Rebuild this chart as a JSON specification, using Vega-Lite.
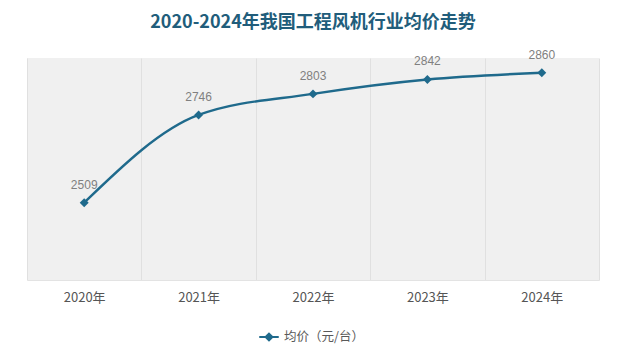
{
  "$schema": "https://vega.github.io/schema/vega-lite/v6.json",
  "width": 572,
  "height": 222,
  "autosize": {"type": "none"},
  "padding": {"left": 27, "top": 58, "right": 24, "bottom": 78},
  "background": "white",
  "config": {
    "font": "Noto Sans CJK SC",
    "view": {"fill": "#f0f0f0", "stroke": null}
  },
  "title": {
    "text": "2020-2024年我国工程风机行业均价走势",
    "fontSize": 18,
    "fontWeight": "bold",
    "color": "#215d7b",
    "anchor": "middle",
    "offset": 17
  },
  "data": {
    "values": [
      {"year": "2020年", "price": 2509, "series": "均价（元/台）"},
      {"year": "2021年", "price": 2746, "series": "均价（元/台）"},
      {"year": "2022年", "price": 2803, "series": "均价（元/台）"},
      {"year": "2023年", "price": 2842, "series": "均价（元/台）"},
      {"year": "2024年", "price": 2860, "series": "均价（元/台）"}
    ]
  },
  "encoding": {
    "x": {
      "field": "year",
      "type": "nominal",
      "sort": null,
      "scale": {"paddingInner": 0, "paddingOuter": 0},
      "axis": {
        "title": null,
        "labelAngle": 0,
        "labelFontSize": 13,
        "labelColor": "#555555",
        "labelPadding": 11,
        "ticks": false,
        "tickBand": "extent",
        "grid": true,
        "gridColor": "#e0e0e0",
        "domainColor": "#e3e3e3"
      }
    },
    "y": {
      "field": "price",
      "type": "quantitative",
      "scale": {"domain": [2300, 2900], "zero": false},
      "axis": null
    }
  },
  "layer": [
    {
      "mark": {"type": "line", "interpolate": "monotone", "strokeWidth": 2.4},
      "encoding": {
        "color": {
          "field": "series",
          "type": "nominal",
          "scale": {"range": ["#1f6a8c"]},
          "legend": {
            "title": null,
            "orient": "none",
            "legendX": 231,
            "legendY": 268,
            "labelFontSize": 12.5,
            "labelColor": "#595959",
            "symbolType": "M-1,0L1,0M0,-0.35L0.35,0L0,0.35L-0.35,0Z",
            "symbolStrokeWidth": 2,
            "symbolSize": 380,
            "symbolFillColor": "#1f6a8c",
            "symbolStrokeColor": "#1f6a8c"
          }
        }
      }
    },
    {
      "mark": {"type": "point", "shape": "diamond", "filled": true, "size": 80, "opacity": 1, "color": "#1f6a8c"}
    },
    {
      "mark": {"type": "text", "baseline": "bottom", "dy": -11, "fontSize": 12, "color": "#808080", "font": "Liberation Sans"},
      "encoding": {"text": {"field": "price", "type": "quantitative"}}
    }
  ]
}
